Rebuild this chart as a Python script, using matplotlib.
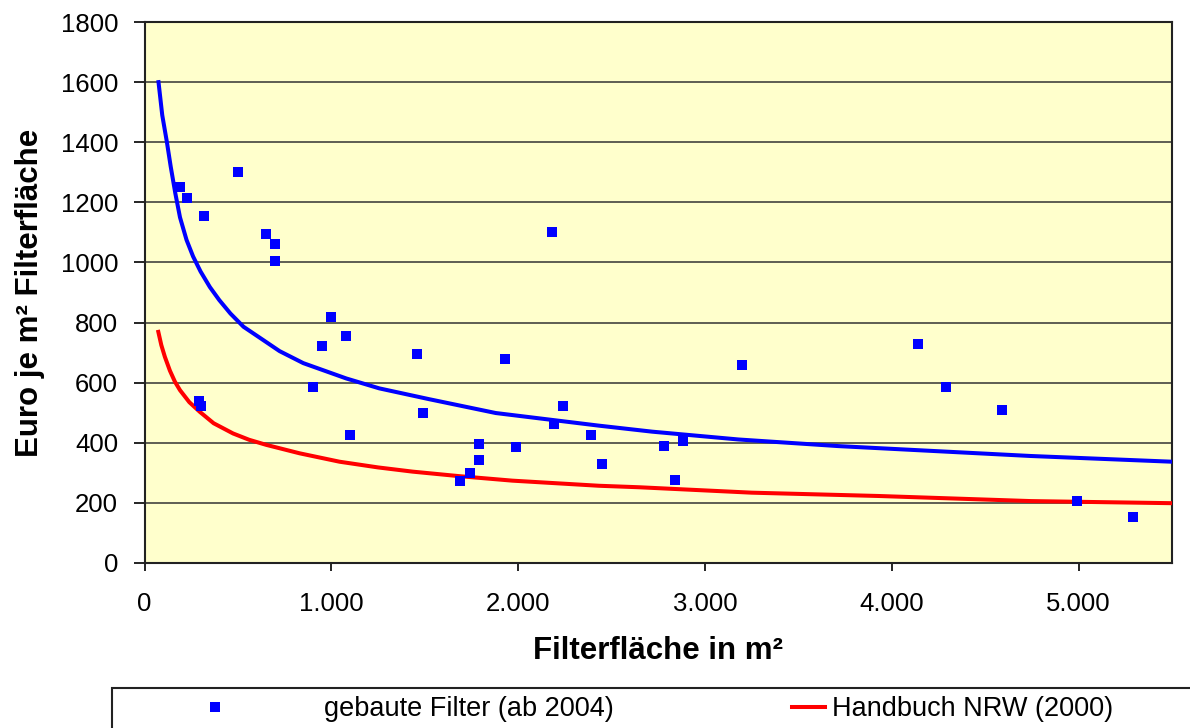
import matplotlib
matplotlib.use('Agg')
import matplotlib.pyplot as plt
from matplotlib.patches import Rectangle
from matplotlib.ticker import FuncFormatter

plt.rcParams['font.family'] = ['Liberation Sans', 'DejaVu Sans']

# gebaute Filter (ab 2004): Filterfläche [m²], Euro je m²
filter_x = [190, 230, 320, 500, 650, 700, 700, 1000, 950, 1080, 900, 1100, 290, 300,
            1460, 1930, 1490, 1790, 1790, 1740, 1690, 1990, 2240, 2190, 2390, 2180,
            3200, 2450, 2780, 2880, 2840, 4140, 4290, 4590, 4990, 5290]
filter_y = [1250, 1215, 1155, 1300, 1095, 1060, 1005, 820, 722, 755, 587, 426, 540, 522,
            694, 680, 500, 395, 342, 300, 272, 387, 522, 463, 426, 1100,
            658, 329, 390, 405, 276, 728, 587, 508, 205, 153]

# Trendlinie (blau)
trend_x = [75, 95, 120, 140, 165, 190, 225, 260, 300, 350, 400, 460, 530, 635, 723,
           850, 1080, 1257, 1524, 1880, 2432, 2717, 3179, 3713, 4745, 5500]
trend_y = [1600, 1490, 1400, 1320, 1230, 1150, 1075, 1020, 970, 918, 875, 830, 786,
           742, 705, 665, 614, 581, 545, 499, 457, 437, 411, 389, 356, 337]

# Handbuch NRW (2000)
nrw_x = [74, 90, 109, 136, 163, 190, 240, 296, 370, 474, 560, 652, 830, 1044, 1250,
         1435, 1684, 1969, 2432, 2648, 3250, 3927, 4745, 5500]
nrw_y = [769, 725, 686, 640, 603, 575, 535, 503, 465, 431, 410, 393, 365, 337, 318,
         304, 289, 274, 257, 252, 234, 223, 206, 199]

W, H = 1190, 728
fig = plt.figure(figsize=(W / 100, H / 100), dpi=100)
ax = fig.add_axes([144.5 / W, 1 - 563 / H, (1172 - 144.5) / W, (563 - 22) / H])
ax.set_facecolor('#FFFFCC')

pts, = ax.plot(filter_x, filter_y, 's', color='#0000FF', markersize=6.5,
               markeredgewidth=0, label='gebaute Filter (ab 2004)', zorder=4)
ax.plot(trend_x, trend_y, color='#0000FF', lw=2.9, zorder=3)
nrw, = ax.plot(nrw_x, nrw_y, color='#FF0000', lw=2.9,
               label='Handbuch NRW (2000)', zorder=3)

ax.set_xlim(0, 5500)
ax.set_ylim(0, 1800)
ax.set_xticks(range(0, 5001, 1000))
ax.set_yticks(range(0, 1801, 200))
ax.xaxis.set_major_formatter(FuncFormatter(lambda v, p: f'{int(v):,}'.replace(',', '.')))
ax.grid(axis='y', color='#333333', lw=1.1)
ax.set_axisbelow(True)
for s in ax.spines.values():
    s.set_color('#222222')
    s.set_linewidth(1.5)
ax.tick_params(axis='y', direction='out', length=8, width=1.2, pad=11, labelsize=18.5)
ax.tick_params(axis='x', direction='out', length=6, width=1.2, pad=15, labelsize=18.5)

ax.set_xlabel('Filterfläche in m²', fontsize=22.5, fontweight='bold')
ax.set_ylabel('Euro je m² Filterfläche', fontsize=22.5, fontweight='bold')
ax.xaxis.set_label_coords(0.5, (563 - 636) / 541)
ax.yaxis.set_label_coords((45 - 144.5) / 1027.5, 0.5)

# Legendenrahmen (unten abgeschnitten)
fig.patches.append(Rectangle((112 / W, -0.2), 1.2, 1 - 688 / H + 0.2,
                             transform=fig.transFigure, facecolor='white',
                             edgecolor='#222222', lw=1.5))

fs = 19.5
fig.legend(handles=[pts], loc='upper left', frameon=False,
           bbox_to_anchor=(201 / W, 1 - 696 / H), fontsize=fs,
           handlelength=1.0, handletextpad=3.55, borderpad=0,
           borderaxespad=0, numpoints=1)
fig.legend(handles=[nrw], loc='upper left', frameon=False,
           bbox_to_anchor=(792 / W, 1 - 696 / H), fontsize=fs,
           handlelength=1.22, handletextpad=0.26, borderpad=0, borderaxespad=0)

fig.savefig('out.png', dpi=100)
